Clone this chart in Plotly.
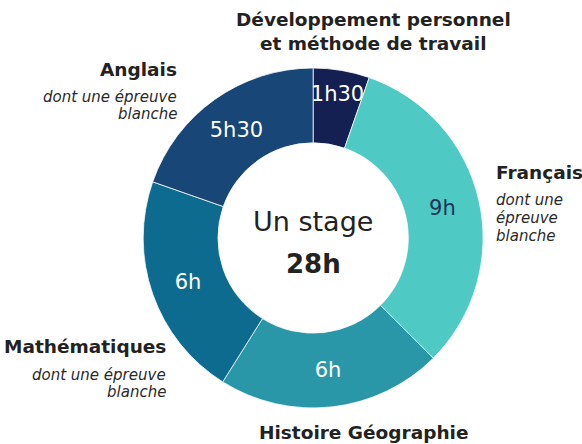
import plotly.graph_objects as go

# Data
subjects = ["Développement personnel et méthode de travail", "Français",
            "Histoire Géographie", "Mathématiques", "Anglais"]
hours = [1.5, 9, 6, 6, 5.5]
hour_labels = ["1h30", "9h", "6h", "6h", "5h30"]
colors = ["#142052", "#4ec9c3", "#2a97a8", "#0e6b90", "#184677"]
text_colors = ["white", "#1d3557", "white", "white", "white"]

W, H = 582, 444

def px(x, y):
    return x / W, 1 - y / H

fig = go.Figure(go.Pie(
    labels=subjects, values=hours, text=hour_labels,
    texttemplate="%{text}", textposition="inside", insidetextorientation="horizontal",
    textfont=dict(family="DejaVu Sans", size=21, color=text_colors),
    marker=dict(colors=colors, line=dict(color="rgba(255,255,255,0.75)", width=1)),
    hole=0.56, sort=False, direction="clockwise", rotation=0,
    domain=dict(x=[0.246, 0.830], y=[0.081, 0.847]),
    showlegend=False, hoverinfo="label+text",
))

annots = []
def add(text, x, y, size, xanchor="center", bold=False, italic=False, color="#222222"):
    ax, ay = px(x, y)
    t = text
    if bold:
        t = "<b>" + t + "</b>"
    if italic:
        t = "<i>" + t + "</i>"
    annots.append(dict(text=t, x=ax, y=ay, xref="paper", yref="paper",
                       xanchor=xanchor, yanchor="middle", showarrow=False,
                       font=dict(family="DejaVu Sans", size=size, color=color)))

add("Développement personnel", 373, 20, 18.5, bold=True)
add("et méthode de travail", 373, 44, 18.5, bold=True)
add("Anglais", 179, 70, 18.5, xanchor="right", bold=True)
add("dont une épreuve", 179, 97, 15, xanchor="right", italic=True, color="#2a2a2a")
add("blanche", 179, 114, 15, xanchor="right", italic=True, color="#2a2a2a")
add("Français", 494, 172, 18.5, xanchor="left", bold=True)
add("dont une", 494, 200, 15, xanchor="left", italic=True, color="#2a2a2a")
add("épreuve", 494, 218, 15, xanchor="left", italic=True, color="#2a2a2a")
add("blanche", 494, 236, 15, xanchor="left", italic=True, color="#2a2a2a")
add("Mathématiques", 168, 346, 18.5, xanchor="right", bold=True)
add("dont une épreuve", 168, 375, 15, xanchor="right", italic=True, color="#2a2a2a")
add("blanche", 168, 392, 15, xanchor="right", italic=True, color="#2a2a2a")
add("Histoire Géographie", 363, 432, 18.5, bold=True)
add("Un stage", 313, 221, 27)
add("28h", 313, 264, 26, bold=True)

fig.update_layout(
    width=W, height=H, margin=dict(l=0, r=0, t=0, b=0),
    paper_bgcolor="white", plot_bgcolor="white",
    annotations=annots,
    uniformtext=dict(minsize=21, mode="show"),
)
fig.write_html("out.html")
